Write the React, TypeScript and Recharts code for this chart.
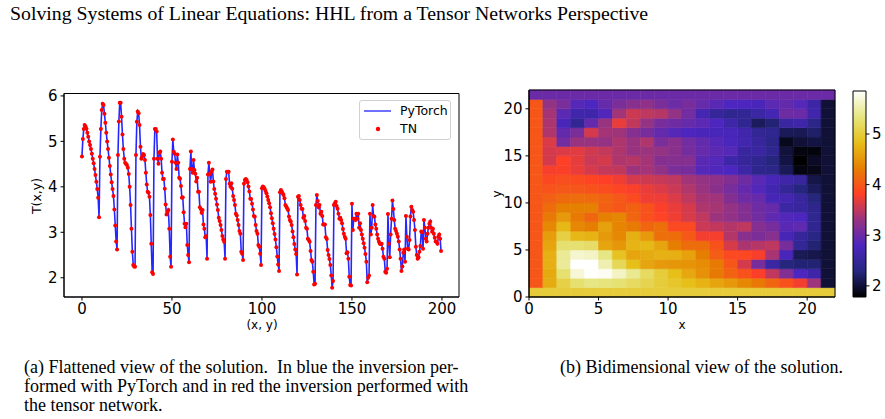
import React from 'react';
import { ComposedChart, Line, XAxis, YAxis, ReferenceArea, Legend } from 'recharts';

// Interior solution T(x, y), one array per row, y = 1 (bottom) .. 20 (top), x = 1 .. 20
const row01 = [4.67, 5.05, 5.27, 5.36, 5.33, 5.28, 5.19, 5.10, 5.00, 4.92, 4.83, 4.73, 4.62, 4.52, 4.39, 4.26, 4.11, 3.95, 3.76, 3.33];
const row02 = [4.66, 5.27, 5.69, 5.83, 5.80, 5.61, 5.41, 5.19, 5.00, 4.83, 4.64, 4.46, 4.27, 4.10, 3.95, 3.80, 3.50, 3.15, 2.80, 2.62];
const row03 = [4.70, 5.44, 5.85, 5.85, 5.54, 5.15, 4.83, 4.62, 4.53, 4.50, 4.48, 4.42, 4.28, 4.00, 3.60, 3.08, 2.57, 2.28, 2.25, 2.24];
const row04 = [4.70, 5.43, 5.66, 5.62, 5.36, 4.88, 4.62, 4.67, 4.72, 4.70, 4.59, 4.31, 4.05, 3.89, 3.87, 3.78, 3.38, 2.75, 2.12, 2.08];
const row05 = [4.62, 5.27, 5.27, 5.22, 4.62, 4.51, 4.75, 4.78, 4.62, 4.31, 4.17, 4.17, 3.96, 3.61, 3.39, 3.45, 3.49, 3.08, 2.46, 2.24];
const row06 = [4.55, 5.04, 4.77, 4.73, 4.53, 4.39, 4.71, 4.53, 4.20, 4.18, 4.02, 3.76, 3.77, 3.44, 3.19, 3.11, 3.19, 2.72, 2.50, 2.34];
const row07 = [4.39, 4.78, 4.39, 4.31, 4.59, 4.37, 4.29, 4.12, 4.20, 3.89, 3.89, 3.55, 3.51, 3.43, 3.49, 3.17, 3.08, 2.89, 2.92, 2.42];
const row08 = [4.27, 4.53, 4.28, 4.11, 4.33, 4.38, 4.12, 3.95, 3.85, 3.74, 3.61, 3.49, 3.32, 3.25, 3.16, 3.05, 2.92, 2.84, 2.79, 2.42];
const row09 = [4.17, 4.33, 4.33, 4.33, 4.07, 4.00, 4.08, 3.96, 3.80, 3.71, 3.60, 3.41, 3.37, 3.27, 3.16, 3.03, 2.97, 2.57, 2.53, 2.39];
const row10 = [4.07, 4.15, 4.17, 4.15, 4.10, 4.01, 3.90, 3.74, 3.73, 3.63, 3.50, 3.36, 3.34, 3.16, 3.03, 2.97, 2.72, 2.68, 2.53, 2.28];
const row11 = [3.97, 4.01, 3.99, 3.96, 3.91, 3.86, 3.79, 3.71, 3.64, 3.55, 3.42, 3.31, 3.20, 3.08, 2.96, 2.84, 2.67, 2.47, 2.29, 2.15];
const row12 = [3.88, 3.93, 3.90, 3.86, 3.82, 3.75, 3.60, 3.57, 3.53, 3.49, 3.35, 3.27, 3.24, 3.16, 3.02, 2.89, 2.74, 2.62, 2.52, 2.07];
const row13 = [3.78, 3.80, 3.71, 3.60, 3.52, 3.51, 3.32, 3.36, 3.25, 3.10, 3.08, 2.86, 2.83, 2.79, 2.59, 2.39, 2.35, 2.13, 1.85, 1.87];
const row14 = [3.60, 3.82, 3.69, 3.55, 3.60, 3.41, 3.45, 3.36, 3.17, 3.17, 3.17, 2.89, 2.85, 2.61, 2.50, 2.41, 2.28, 2.05, 1.78, 1.93];
const row15 = [3.60, 3.64, 3.67, 3.58, 3.52, 3.41, 3.30, 3.32, 3.27, 3.20, 3.07, 2.97, 2.90, 2.86, 2.54, 2.56, 2.42, 2.02, 1.84, 1.83];
const row16 = [3.63, 3.05, 3.30, 3.30, 3.27, 3.41, 3.30, 3.41, 3.10, 3.20, 3.05, 2.95, 2.86, 2.76, 2.66, 2.52, 2.35, 1.90, 2.00, 2.05];
const row17 = [3.41, 2.95, 3.10, 3.60, 3.36, 3.34, 3.17, 3.08, 2.95, 2.86, 2.79, 2.75, 2.74, 2.75, 2.64, 2.46, 2.42, 2.13, 2.11, 2.20];
const row18 = [3.40, 2.75, 2.45, 2.95, 3.30, 3.70, 3.51, 3.27, 3.08, 3.03, 2.97, 2.90, 2.80, 2.62, 2.42, 2.15, 2.25, 2.55, 2.62, 2.35];
const row19 = [3.36, 2.90, 2.64, 2.62, 2.83, 3.35, 3.56, 3.49, 3.45, 3.27, 3.05, 2.68, 2.50, 2.42, 2.45, 2.57, 2.70, 3.02, 3.00, 2.64];
const row20 = [3.27, 3.10, 2.86, 2.80, 2.97, 3.10, 3.19, 3.24, 3.10, 3.01, 3.08, 2.97, 2.88, 2.80, 2.79, 2.75, 2.90, 2.95, 2.86, 2.59];

const interiorRows = [row01, row02, row03, row04, row05, row06, row07, row08, row09, row10,
  row11, row12, row13, row14, row15, row16, row17, row18, row19, row20];

// Dirichlet boundary values
const boundaryBottom = 5;
const boundaryLeft = 4;
const boundaryTop = 3;
const boundaryRight = 2;

const flatTicks = [0, 50, 100, 150, 200];
const tempTicks = [2, 3, 4, 5, 6];
const gridTicks = [0, 5, 10, 15, 20];
const colorbarTicks = [2, 3, 4, 5];

// CMRmap colormap stops: [position, r, g, b]
const cmrStops: number[][] = [
  [0.0, 0.0, 0.0, 0.0],
  [0.125, 0.15, 0.15, 0.5],
  [0.25, 0.3, 0.15, 0.75],
  [0.375, 0.6, 0.2, 0.5],
  [0.5, 1.0, 0.25, 0.15],
  [0.625, 0.9, 0.5, 0.0],
  [0.75, 0.9, 0.75, 0.1],
  [0.875, 0.9, 0.9, 0.5],
  [1.0, 1.0, 1.0, 1.0],
];

const toHex = (v: number) => Math.round(Math.max(0, Math.min(1, v)) * 255).toString(16).padStart(2, '0');

function cmr(t: number): string {
  const u = Math.max(0, Math.min(1, t));
  for (let k = 1; k < cmrStops.length; k++) {
    const a = cmrStops[k - 1];
    const b = cmrStops[k];
    if (u <= b[0]) {
      const f = (u - a[0]) / (b[0] - a[0]);
      return '#' + toHex(a[1] + f * (b[1] - a[1])) + toHex(a[2] + f * (b[2] - a[2])) + toHex(a[3] + f * (b[3] - a[3]));
    }
  }
  return '#ffffff';
}

const N = interiorRows.length;
const gridSize = N + 2;

// flattened series: x axis runs over half the flat index
const flatData = interiorRows.flatMap((row, r) => row.map((t, c) => ({ x: (r * N + c) / 2, t })));

const allInterior = interiorRows.flat();
const vmin = Math.min(...allInterior);
const vmax = Math.max(...allInterior);

function cellValue(r: number, c: number): number {
  if (r === 0) return boundaryBottom;
  if (r === gridSize - 1) return boundaryTop;
  if (c === 0) return boundaryLeft;
  if (c === gridSize - 1) return boundaryRight;
  return interiorRows[r - 1][c - 1];
}

const cells: { x: number; y: number; v: number }[] = [];
for (let r = 0; r < gridSize; r++) {
  for (let c = 0; c < gridSize; c++) {
    cells.push({ x: c, y: r, v: cellValue(r, c) });
  }
}

// matplotlib-style 5% padding on the flattened plot
const xMax = flatData[flatData.length - 1].x;
const xPad = xMax * 0.05;
const xDomain: [number, number] = [-xPad, xMax + xPad];
const yPad = (vmax - vmin) * 0.05;
const yDomain: [number, number] = [vmin - yPad, vmax + yPad];

const tickFont = { fontSize: 15, fill: '#000', fontFamily: 'DejaVu Sans' };
const axisStroke = { stroke: '#000', strokeWidth: 1 };

const LegendBox = () => (
  <div style={{
    width: 90, height: 38, border: '1px solid #d0d0d0', borderRadius: 3, background: '#fff',
    fontFamily: 'DejaVu Sans', fontSize: 12.5, lineHeight: '15px', color: '#000', position: 'relative', boxSizing: 'content-box',
  }}>
    <svg width={40} height={38} style={{ position: 'absolute', left: 0, top: 0 }}>
      <line x1={4} x2={31} y1={10} y2={10} stroke="#0000ff" strokeOpacity={0.75} strokeWidth={1.5} />
      <circle cx={18} cy={28} r={2.2} fill="#ff0000" />
    </svg>
    <div style={{ position: 'absolute', left: 40, top: 2 }}>PyTorch</div>
    <div style={{ position: 'absolute', left: 40, top: 20 }}>TN</div>
  </div>
);

function FlatChart() {
  return (
    <div style={{ position: 'absolute', left: 0, top: 0 }}>
      <ComposedChart width={470} height={340} data={flatData} margin={{ top: 93.5, right: 11, bottom: 13, left: 34 }}>
        <XAxis dataKey="x" type="number" domain={xDomain} ticks={flatTicks} allowDataOverflow height={30}
          tickSize={3.5} tickMargin={2.5} tick={tickFont} tickLine={axisStroke} axisLine={axisStroke} />
        <YAxis type="number" domain={yDomain} ticks={tempTicks} allowDataOverflow width={30}
          tickSize={3.5} tickMargin={3} tick={tickFont} tickLine={axisStroke} axisLine={axisStroke} />
        <ReferenceArea x1={xDomain[0]} x2={xDomain[1]} y1={yDomain[0]} y2={yDomain[1]}
          fill="none" fillOpacity={0} stroke="#000" strokeWidth={1} />
        <Line dataKey="t" type="linear" stroke="#0000ff" strokeOpacity={0.85} strokeWidth={1.6} dot={false}
          isAnimationActive={false} name="PyTorch" />
        <Line dataKey="t" type="linear" stroke="none" isAnimationActive={false} name="TN"
          dot={{ r: 2, fill: '#ff0000', stroke: 'none' }} activeDot={false} />
        <Legend layout="horizontal" verticalAlign="middle" align="center"
          wrapperStyle={{ left: 359, top: 100, width: 92, height: 40 }} content={() => <LegendBox />} />
      </ComposedChart>
    </div>
  );
}

function GridChart() {
  return (
    <div style={{ position: 'absolute', left: 480, top: 0 }}>
      <ComposedChart width={370} height={340} data={cells} margin={{ top: 90, right: 15, bottom: 13, left: 19 }}>
        <XAxis dataKey="x" type="number" domain={[0, gridSize]} ticks={gridTicks} allowDataOverflow height={30}
          tickSize={3.5} tickMargin={2.5} tick={tickFont} tickLine={axisStroke} axisLine={axisStroke} />
        <YAxis dataKey="y" type="number" domain={[0, gridSize]} ticks={gridTicks} allowDataOverflow width={30}
          tickSize={3.5} tickMargin={3} tick={tickFont} tickLine={axisStroke} axisLine={axisStroke} />
        {cells.map((c) => {
          const col = cmr((c.v - vmin) / (vmax - vmin));
          return (
            <ReferenceArea key={`${c.x}-${c.y}`} x1={c.x} x2={c.x + 1} y1={c.y} y2={c.y + 1}
              fill={col} fillOpacity={1} stroke={col} strokeWidth={0.6} />
          );
        })}
        <ReferenceArea x1={0} x2={gridSize} y1={0} y2={gridSize} fill="none" fillOpacity={0} stroke="#000" strokeWidth={1} />
      </ComposedChart>
    </div>
  );
}

function ColorBar() {
  const stops = cmrStops.map((s) => ({ offset: s[0], color: cmr(s[0]) }));
  return (
    <div style={{ position: 'absolute', left: 840, top: 0 }}>
      <ComposedChart width={45} height={340} data={[{ x: 0, v: vmin }, { x: 1, v: vmax }]}
        margin={{ top: 91, right: 0, bottom: 43, left: 13 }}>
        <defs>
          <linearGradient id="cmrBar" x1="0" y1="1" x2="0" y2="0">
            {stops.map((s) => <stop key={s.offset} offset={s.offset} stopColor={s.color} />)}
          </linearGradient>
        </defs>
        <XAxis dataKey="x" type="number" domain={[0, 1]} hide />
        <YAxis dataKey="v" type="number" orientation="right" domain={[vmin, vmax]} ticks={colorbarTicks}
          allowDataOverflow width={19} tickSize={3.5} tickMargin={2.5} tick={tickFont} tickLine={axisStroke} axisLine={false} />
        <ReferenceArea x1={0} x2={1} y1={vmin} y2={vmax} fill="url(#cmrBar)" fillOpacity={1} stroke="#000" strokeWidth={1} />
      </ComposedChart>
    </div>
  );
}

const labelStyle: React.CSSProperties = { position: 'absolute', fontFamily: 'DejaVu Sans', fontSize: 12, lineHeight: '14px', whiteSpace: 'nowrap', color: '#000' };
const captionStyle: React.CSSProperties = { position: 'absolute', fontFamily: '"Liberation Serif", serif', fontSize: 18, lineHeight: '19px', whiteSpace: 'nowrap', color: '#000' };

export default function App() {
  return (
    <div style={{ position: 'absolute', left: 0, top: 0, width: 885, height: 419, background: '#fff', overflow: 'hidden' }}>
      <div style={{ ...captionStyle, left: 10, top: 2, fontSize: 19.8, lineHeight: '22px' }}>
        Solving Systems of Linear Equations: HHL from a Tensor Networks Perspective
      </div>
      <FlatChart />
      <GridChart />
      <ColorBar />
      <div style={{ ...labelStyle, left: 262, top: 318, transform: 'translateX(-50%)' }}>(x, y)</div>
      <div style={{ ...labelStyle, left: 37, top: 196, fontSize: 12.5, transform: 'translate(-50%, -50%) rotate(-90deg)' }}>T(x,y)</div>
      <div style={{ ...labelStyle, left: 682, top: 318, transform: 'translateX(-50%)' }}>x</div>
      <div style={{ ...labelStyle, left: 497, top: 194, transform: 'translate(-50%, -50%) rotate(-90deg)' }}>y</div>
      <div style={{ ...captionStyle, left: 24, top: 358 }}>
        (a) Flattened view of the solution.&nbsp; In blue the inversion per-<br />
        formed with PyTorch and in red the inversion performed with<br />
        the tensor network.
      </div>
      <div style={{ ...captionStyle, left: 560, top: 358 }}>(b) Bidimensional view of the solution.</div>
    </div>
  );
}
